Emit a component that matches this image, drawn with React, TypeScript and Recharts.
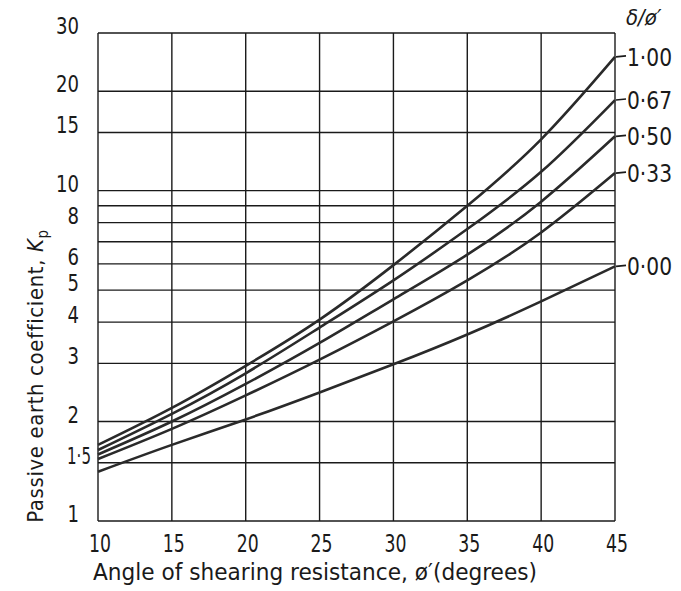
import React from 'react';
import { LineChart, Line, XAxis, YAxis, CartesianGrid, Label } from 'recharts';

// angle of shearing resistance (degrees)
const angles = [10, 15, 20, 25, 30, 35, 40, 45];

// Kp for each delta/phi ratio
const kp100 = [1.70, 2.20, 2.95, 4.07, 5.95, 9.0, 14.3, 25.4];
const kp067 = [1.64, 2.11, 2.80, 3.85, 5.35, 7.65, 11.4, 18.8];
const kp050 = [1.59, 2.00, 2.60, 3.46, 4.69, 6.4, 9.26, 14.6];
const kp033 = [1.54, 1.90, 2.40, 3.08, 4.02, 5.35, 7.47, 11.3];
const kp000 = [1.41, 1.70, 2.03, 2.45, 2.98, 3.67, 4.62, 5.9];

const ratioLabels = ['1·00', '0·67', '0·50', '0·33', '0·00'];

const xTicks = [10, 15, 20, 25, 30, 35, 40, 45];
const yTicks = [1, 1.5, 2, 3, 4, 5, 6, 7, 8, 9, 10, 15, 20, 30];
const yTickText: Record<string, string> = {
  '1': '1', '1.5': '1·5', '2': '2', '3': '3', '4': '4', '5': '5', '6': '6',
  '8': '8', '10': '10', '15': '15', '20': '20', '30': '30',
};

const series = [kp100, kp067, kp050, kp033, kp000];
const keys = ['r100', 'r067', 'r050', 'r033', 'r000'];

const data = angles.map((a, i) => {
  const row: Record<string, number> = { angle: a };
  keys.forEach((k, j) => { row[k] = series[j][i]; });
  return row;
});

const FONT = '"DejaVu Sans Condensed", "Liberation Sans Narrow", "DejaVu Sans", sans-serif';
const INK = '#1a1a1a';

const YTick = (props: any) => {
  const { y, payload } = props;
  const txt = yTickText[String(payload.value)];
  if (!txt) return null;
  // hand lettering: 1.5 sits a bit to the right
  const isHalf = payload.value === 1.5;
  return (
    <text x={isHalf ? 67 : 79} y={y + 1} textAnchor={isHalf ? 'start' : 'end'}
      fontFamily={FONT} fontSize={23} fill={INK}
      textLength={isHalf ? 24 : txt.length * 11.5} lengthAdjust="spacingAndGlyphs">
      {txt}
    </text>
  );
};

const XTick = (props: any) => {
  const { x, payload } = props;
  return (
    <text x={x + 2} y={552} textAnchor="middle" fontFamily={FONT} fontSize={25} fill={INK}
      textLength={22} lengthAdjust="spacingAndGlyphs">
      {payload.value}
    </text>
  );
};

const endLabel = (text: string, last: number) => (props: any) => {
  const { x, y, index } = props;
  if (index !== last) return null;
  return (
    <g>
      <line x1={x + 1} y1={y} x2={x + 11} y2={y - 1} stroke={INK} strokeWidth={1.6} />
      <text x={x + 12} y={y + 9} fontFamily={FONT} fontSize={24} fill={INK}
        textLength={45} lengthAdjust="spacingAndGlyphs">{text}</text>
    </g>
  );
};

export default function App() {
  return (
    <div style={{ position: 'absolute', left: 0, top: 0, width: 681, height: 591, background: '#fff' }}>
      <LineChart width={681} height={591} data={data}
        margin={{ top: 33, right: 66, bottom: 0, left: 0 }}>
        <CartesianGrid stroke={INK} strokeWidth={1.4} />
        <XAxis dataKey="angle" type="number" domain={[10, 45]} ticks={xTicks}
          height={70} axisLine={false} tickLine={false} tick={<XTick />} interval={0}>
          <Label content={(p: any) => (
            <text x={p.viewBox.x - 5} y={p.viewBox.y + 59} fontFamily={FONT} fontSize={23}
              fill={INK} textLength={444} lengthAdjust="spacingAndGlyphs">
              Angle of shearing resistance, ø′(degrees)
            </text>
          )} />
        </XAxis>
        <YAxis type="number" scale="log" domain={[1, 30]} ticks={yTicks} allowDataOverflow
          width={98} axisLine={false} tickLine={false} tick={<YTick />} interval={0}>
          <Label content={(p: any) => {
            const cx = p.viewBox.x + 43;
            const cy = p.viewBox.y + 343;
            return (
              <text x={cx} y={cy} transform={`rotate(-90, ${cx}, ${cy})`} textAnchor="middle"
                fontFamily={FONT} fontSize={22} letterSpacing={0.6} fill={INK}>
                Passive earth coefficient, <tspan fontStyle="italic">K</tspan>
                <tspan dy={5} fontSize={15}>p</tspan>
              </text>
            );
          }} />
        </YAxis>
        {keys.map((k, j) => (
          <Line key={k} dataKey={k} type="natural" stroke="#2a2a2a" strokeWidth={2.6}
            dot={false} isAnimationActive={false}
            label={endLabel(ratioLabels[j], angles.length - 1)} />
        ))}
      </LineChart>
      <div style={{ position: 'absolute', left: 626, top: 5, fontFamily: FONT, fontSize: 22,
        fontStyle: 'italic', color: INK, lineHeight: '26px' }}>
        δ/ø′
      </div>
    </div>
  );
}
